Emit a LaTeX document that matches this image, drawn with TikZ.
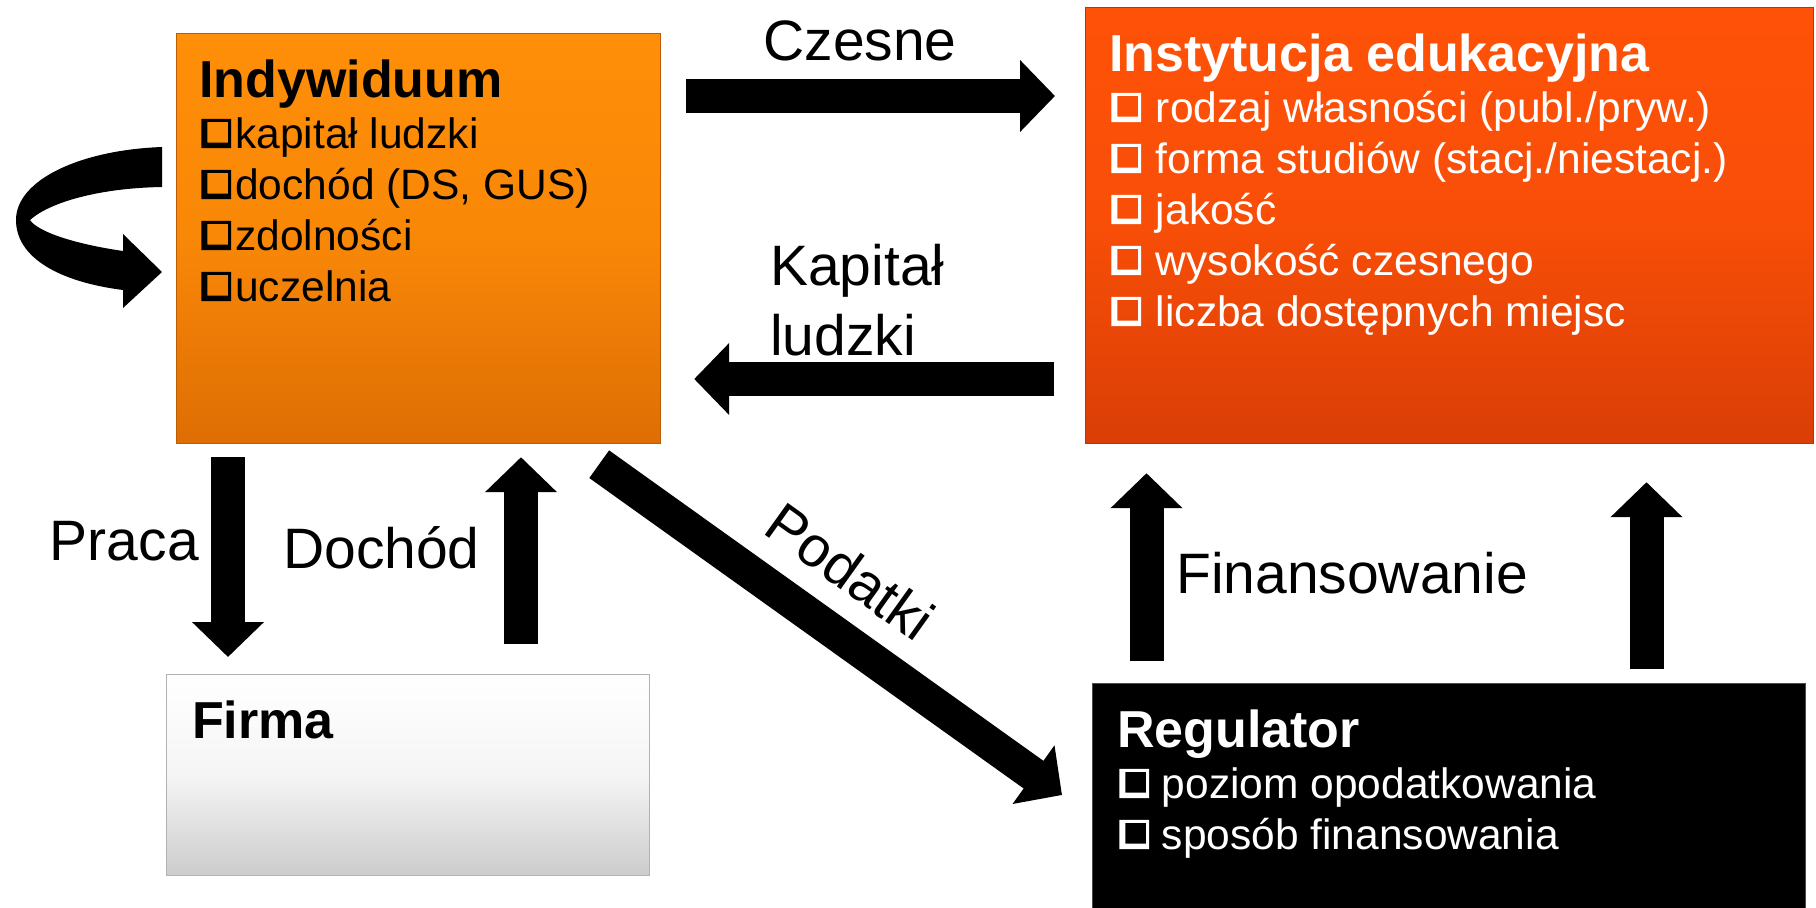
\documentclass[tikz,border=0pt]{standalone}
\usepackage{fontspec}
\setmainfont{Liberation Sans}
\usetikzlibrary{arrows.meta,calc}
\definecolor{indtop}{RGB}{255,142,8}
\definecolor{indbot}{RGB}{222,110,4}
\definecolor{insttop}{RGB}{255,82,8}
\definecolor{instbot}{RGB}{218,62,6}
\definecolor{firmbot}{RGB}{204,204,204}
\newcommand\chkbx{\hspace{0.05em}\tikz[baseline=0pt,x=1em,y=1em]{\fill[even odd rule] (0,0) rectangle (0.7,0.69) (0.14,0.13) rectangle (0.63,0.62);}}
\begin{document}
\begin{tikzpicture}[x=1pt,y=-1pt,
  boxbase/.style={rectangle, inner sep=0pt, anchor=north west, line width=1.2pt},
  txtbase/.style={inner sep=0pt, anchor=north west, align=left, font=\fontsize{42.5pt}{51pt}\selectfont},
  lbl/.style={inner sep=0pt, font=\fontsize{57pt}{70pt}\selectfont},
  blockarrow/.style={line width=34pt, -{Triangle[length=35pt,width=70pt]}},
]
\useasboundingbox (0,0) rectangle (1816,908);
\fill[white] (0,0) rectangle (1816,908);
\clip (0,0) rectangle (1816,908);

% boxes
\node[boxbase, minimum width=484pt, minimum height=410pt, top color=indtop, bottom color=indbot, middle color=indtop!80!indbot, draw=indbot!85!black] (ind) at (176,33) {};
\node[boxbase, minimum width=728pt, minimum height=436pt, top color=insttop, bottom color=instbot, middle color=insttop!80!instbot, draw=instbot!85!black] (inst) at (1085,7) {};
\node[boxbase, minimum width=483pt, minimum height=201pt, top color=white, bottom color=firmbot, middle color=white!80!firmbot, draw=black!30] (firma) at (166,674) {};
\node[boxbase, minimum width=713pt, minimum height=240pt, fill=black, draw=black!70] (reg) at (1092,683) {};

% box texts
\node[txtbase] (indtxt) at ($(ind.north west)+(23,19)$) {\rule{0pt}{45pt}{\fontsize{52pt}{51pt}\selectfont\bfseries Indywiduum}\\
\chkbx\hspace{0.1em}kapitał ludzki\\
\chkbx\hspace{0.1em}dochód (DS, GUS)\\
\chkbx\hspace{0.1em}zdolności\\
\chkbx\hspace{0.1em}uczelnia};

\node[txtbase, text=white] (insttxt) at ($(inst.north west)+(24,19)$) {\rule{0pt}{45pt}{\fontsize{52pt}{51pt}\selectfont\bfseries Instytucja edukacyjna}\\
\chkbx\hspace{0.35em}rodzaj własności (publ./pryw.)\\
\chkbx\hspace{0.35em}forma studiów (stacj./niestacj.)\\
\chkbx\hspace{0.35em}jakość\\
\chkbx\hspace{0.35em}wysokość czesnego\\
\chkbx\hspace{0.35em}liczba dostępnych miejsc};

\node[inner sep=0pt, anchor=base west, font=\fontsize{52pt}{51pt}\selectfont\bfseries] (firmtxt) at ($(firma.north west)+(26,64)$) {Firma};

\node[txtbase, text=white] (regtxt) at ($(reg.north west)+(25,19)$) {\rule{0pt}{45pt}{\fontsize{52pt}{51pt}\selectfont\bfseries Regulator}\\
\chkbx\hspace{0.3em}poziom opodatkowania\\
\chkbx\hspace{0.3em}sposób finansowania};

% connectors
\draw[blockarrow] ($(ind.north east)+(25,63)$) -- ($(inst.north west)+(-30,89)$);
\draw[blockarrow] ($(inst.north west)+(-31,372)$) -- ($(ind.north east)+(33,346)$);
\draw[blockarrow] ($(ind.south west)+(52,13)$) -- ($(firma.north west)+(62,-17)$);
\draw[blockarrow] ($(firma.north west)+(355,-30)$) -- ($(ind.south west)+(345,13)$);
\draw[blockarrow] ($(ind.south east)+(-62,20)$) -- ($(reg.north west)+(-30,112)$);
\draw[blockarrow] ($(reg.north west)+(54.5,-22)$) -- ($(inst.south west)+(61.5,29)$);
\draw[blockarrow] ($(reg.north west)+(554.5,-14)$) -- ($(inst.south west)+(561.5,38)$);

% self loop arrow on Indywiduum
\fill (162,147) .. controls (80,150) and (16,180) .. (16,220)
  .. controls (16,258) and (60,282) .. (123,290) -- (123,308) -- (162,272) -- (123,234) -- (123,251)
  .. controls (75,244) and (38,232) .. (30,220)
  .. controls (50,202) and (100,188) .. (162,187) -- cycle;

% labels
\node[lbl, anchor=base] (czesne) at (860,60) {Czesne};
\node[lbl, anchor=north west, align=left] (kap) at (770,239) {\rule{0pt}{46pt}Kapitał\\ludzki};
\node[lbl, anchor=base east] (praca) at (199,560) {Praca};
\node[lbl, anchor=base west] (doch) at (283,568) {Dochód};
\node[lbl, anchor=base, rotate=-35.6] (podatki) at (839,588) {Podatki};
\node[lbl, anchor=base west] (fin) at (1176,593) {Finansowanie};
\end{tikzpicture}
\end{document}
